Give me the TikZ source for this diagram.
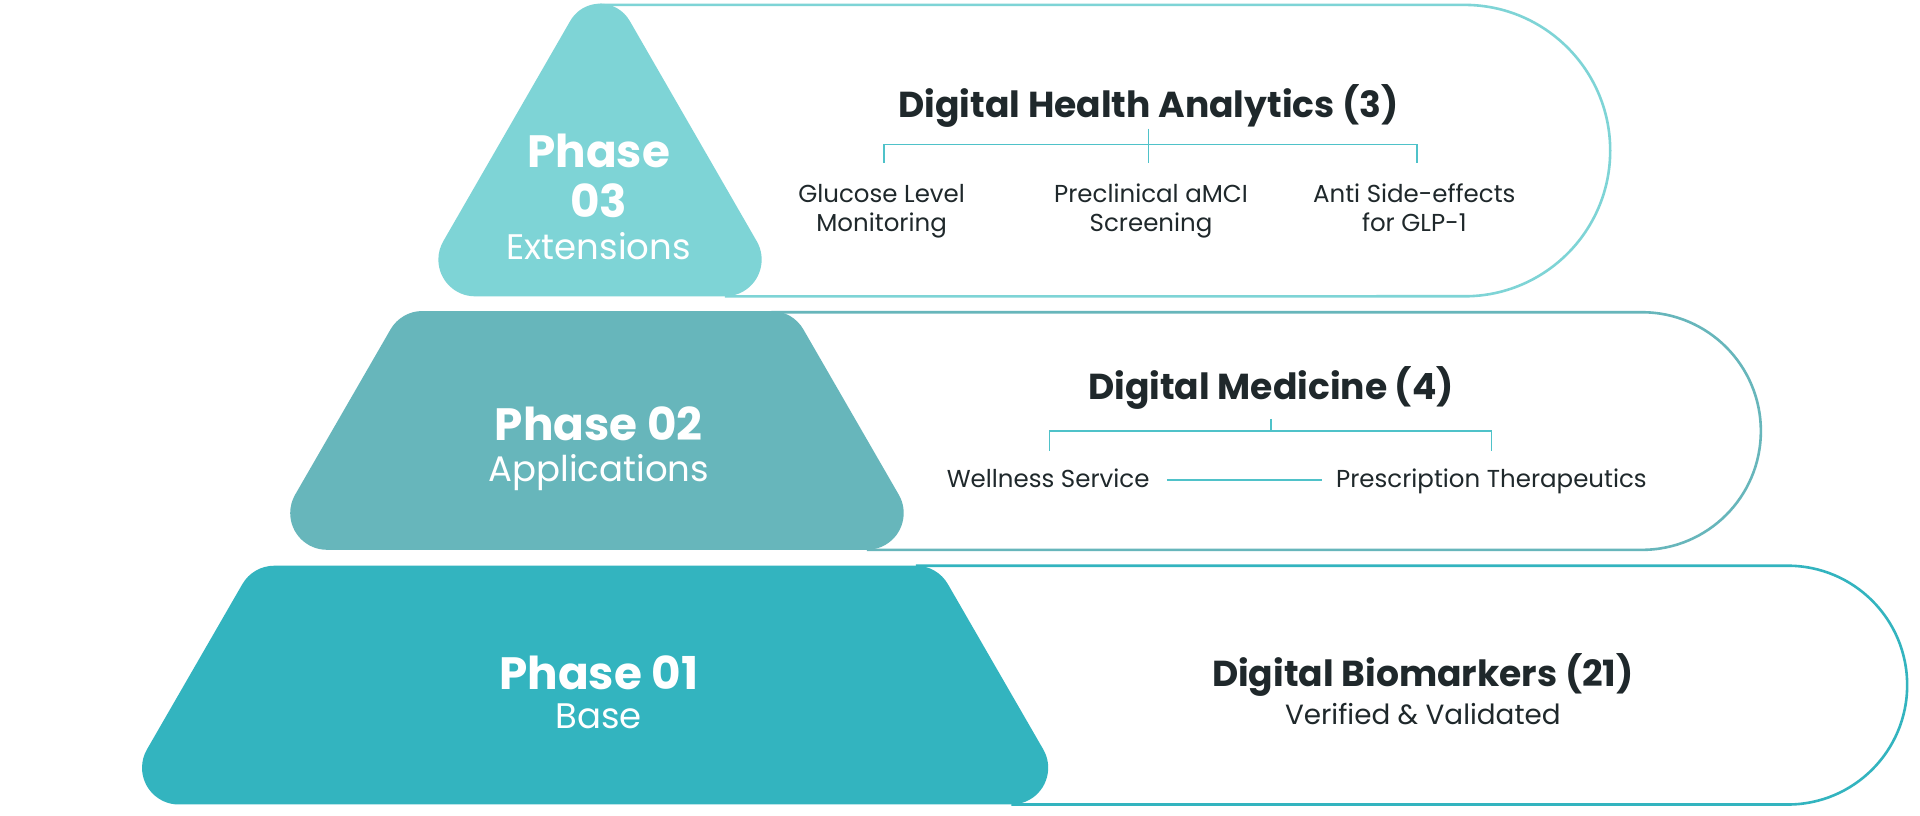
\documentclass[tikz,border=0pt]{standalone}
\usepackage{fontspec}
\setmainfont{Poppins}
\definecolor{cthree}{HTML}{7ED4D6}
\definecolor{ctwo}{HTML}{67B6BB}
\definecolor{cone}{HTML}{33B4BF}
\definecolor{ink}{HTML}{1F282B}
\definecolor{brk}{HTML}{4FC2C9}
\tikzset{
  phasebold/.style={font=\bfseries\fontsize{45.3}{50}\selectfont, text=white, inner sep=0pt, anchor=base},
  phasesub/.style={font=\fontsize{35.5}{40}\selectfont, text=white, inner sep=0pt, anchor=base},
  headtext/.style={font=\bfseries\fontsize{36.1}{42}\selectfont, text=ink, inner sep=0pt, anchor=base},
  subtext/.style={font=\fontsize{27.8}{32}\selectfont, text=ink, inner sep=0pt, anchor=base},
  itemtext/.style={font=\fontsize{24.5}{29}\selectfont, text=ink, inner sep=0pt, anchor=base},
  capsule/.style={line width=2.6pt},
  bracket/.style={draw=brk, line width=1.7pt},
  fil/.style={radius=36.735pt},
}
\begin{document}
\begin{tikzpicture}[x=1.2245pt,y=-1.2245pt]
\useasboundingbox (0,0) rectangle (1568,666);
\fill[white] (0,0) rectangle (1568,666);

% capsule outlines (behind the phase shapes)
\draw[capsule, draw=cthree] (490,4) -- (1196,4)
  arc[start angle=90, end angle=-90, radius=145.7pt] -- (592,242);
\draw[capsule, draw=ctwo] (630,255) -- (1341,255)
  arc[start angle=90, end angle=-90, radius=118.8pt] -- (708,449);
\draw[capsule, draw=cone] (748,462) -- (1460,462)
  arc[start angle=90, end angle=-90, radius=119.4pt] -- (826,657);

% phase 03 triangle
\fill[cthree] (490,242) -- (388,242) arc[fil, start angle=270, end angle=150]
  -- (465.75,17) arc[start angle=150, end angle=30, radius=34.286pt]
  -- (618,197) arc[fil, start angle=30, end angle=-90] -- cycle;
% phase 02 trapezoid
\fill[ctwo] (487.5,449) -- (267,449) arc[fil, start angle=270, end angle=150]
  -- (318.94,269) arc[fil, start angle=150, end angle=90]
  -- (630.1,254) arc[fil, start angle=90, end angle=30]
  -- (734,404) arc[fil, start angle=30, end angle=-90] -- cycle;
% phase 01 trapezoid
\fill[cone] (486,657) -- (146,657) arc[fil, start angle=270, end angle=150]
  -- (197.94,477) arc[fil, start angle=150, end angle=90]
  -- (748.1,462) arc[fil, start angle=90, end angle=30]
  -- (852,612) arc[fil, start angle=30, end angle=-90] -- cycle;

% phase labels
\node[phasebold] (p3a) at (489,137) {Phase};
\node[phasebold] (p3b) at (489,178) {03};
\node[phasesub] (p3c) at (489,212) {Extensions};
\node[phasebold] (p2a) at (489,360) {Phase 02};
\node[phasesub] (p2b) at (489,393) {Applications};
\node[phasebold] (p1a) at (489,563) {Phase 01};
\node[phasesub] (p1b) at (489,595) {Base};

% phase 03 content
\node[headtext] (h3) at (938,96) {Digital Health Analytics (3)};
\node[itemtext] (i31) at (720,165) {Glucose Level};
\node[itemtext] (i31b) at (720,189) {Monitoring};
\node[itemtext] (i32) at (940,165) {Preclinical aMCI};
\node[itemtext] (i32b) at (940,189) {Screening};
\node[itemtext] (i33) at (1155,165) {Anti Side-effects};
\node[itemtext] (i33b) at (1155,189) {for GLP-1};
\coordinate (b3top) at (938,105);
\coordinate (b3mid) at (938,118);
\coordinate (b3c) at (938,133);
\coordinate (b3l) at (722,133);
\coordinate (b3r) at (1157,133);
\draw[bracket] (b3l) |- (b3mid) -| (b3r);
\draw[bracket] (b3top) -- (b3c);

% phase 02 content
\node[headtext] (h2) at (1038,326) {Digital Medicine (4)};
\node[itemtext] (i21) at (856,398) {Wellness Service};
\node[itemtext] (i22) at (1218,398) {Prescription Therapeutics};
\coordinate (b2top) at (1038,342);
\coordinate (b2mid) at (1038,352);
\coordinate (b2l) at (857,368);
\coordinate (b2r) at (1218,368);
\draw[bracket] (b2l) |- (b2mid) -| (b2r);
\draw[bracket] (b2top) -- (b2mid);
\coordinate (w1) at (953,392);
\coordinate (w2) at (1080,392);
\draw[bracket] (w1) -- (w2);

% phase 01 content
\node[headtext] (h1) at (1162,561) {Digital Biomarkers (21)};
\node[subtext] (s1) at (1162,592) {Verified \& Validated};
\end{tikzpicture}
\end{document}
